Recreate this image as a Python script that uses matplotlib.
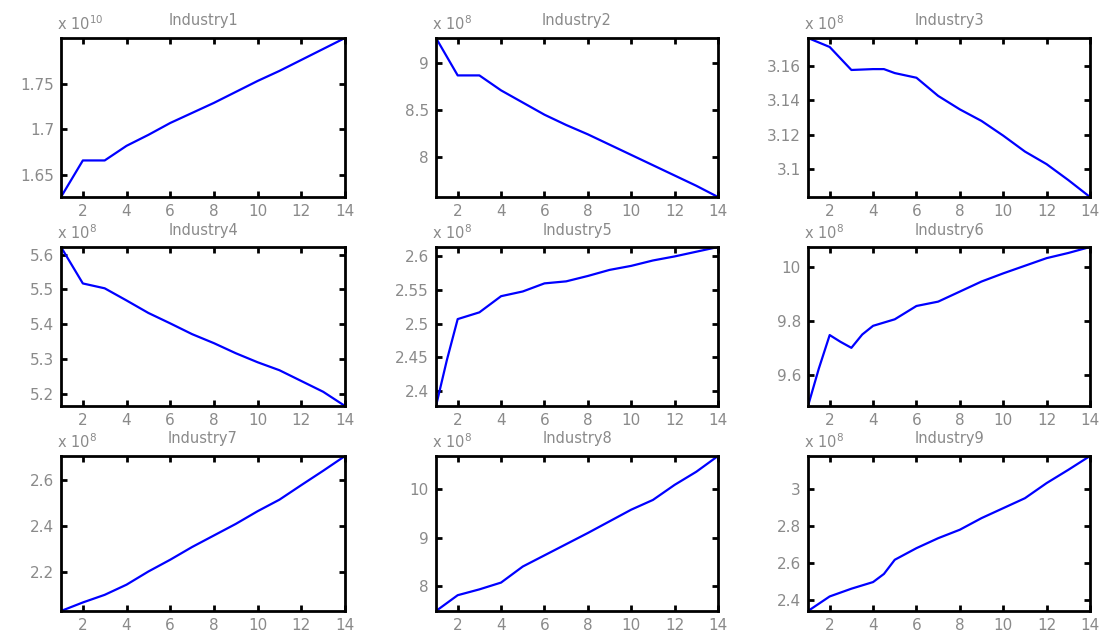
import numpy as np
import matplotlib
matplotlib.use('Agg')
import matplotlib.pyplot as plt

# 数据
x_int = [1, 2, 3, 4, 5, 6, 7, 8, 9, 10, 11, 12, 13, 14]

ind1_y = [1.626, 1.666, 1.666, 1.682, 1.694, 1.707, 1.718, 1.729, 1.741, 1.753, 1.764, 1.776, 1.788, 1.800]
ind2_y = [9.27, 8.87, 8.87, 8.71, 8.58, 8.45, 8.34, 8.24, 8.13, 8.02, 7.91, 7.80, 7.69, 7.57]

ind3_x = [1, 2, 3, 4, 4.5, 5, 6, 7, 8, 9, 10, 11, 12, 13, 14]
ind3_y = [3.176, 3.1708, 3.1575, 3.158, 3.158, 3.1557, 3.153, 3.1425, 3.1347, 3.128, 3.1195, 3.1103, 3.103, 3.0938, 3.084]

ind4_y = [5.622, 5.517, 5.503, 5.468, 5.432, 5.402, 5.371, 5.345, 5.316, 5.290, 5.267, 5.236, 5.205, 5.164]

ind5_x = [1, 1.5, 2, 3, 4, 5, 6, 7, 8, 9, 10, 11, 12, 13, 14]
ind5_y = [2.378, 2.446, 2.507, 2.517, 2.541, 2.548, 2.560, 2.563, 2.571, 2.580, 2.586, 2.594, 2.600, 2.607, 2.614]

ind6_x = [1, 1.5, 2, 2.5, 3, 3.5, 4, 5, 6, 7, 8, 9, 10, 11, 12, 13, 14]
ind6_y = [9.487, 9.625, 9.748, 9.723, 9.701, 9.75, 9.782, 9.806, 9.855, 9.871, 9.908, 9.945, 9.975, 10.003, 10.031, 10.05, 10.072]

ind7_y = [2.033, 2.070, 2.103, 2.147, 2.204, 2.255, 2.31, 2.36, 2.41, 2.465, 2.515, 2.578, 2.64, 2.704]
ind8_y = [7.495, 7.82, 7.94, 8.08, 8.41, 8.64, 8.87, 9.10, 9.34, 9.58, 9.78, 10.09, 10.36, 10.684]

ind9_x = [1, 2, 3, 4, 4.5, 5, 6, 7, 8, 9, 10, 11, 12, 13, 14]
ind9_y = [2.339, 2.418, 2.46, 2.496, 2.54, 2.617, 2.68, 2.734, 2.78, 2.843, 2.897, 2.951, 3.033, 3.105, 3.18]

titles = ['Industry1', 'Industry2', 'Industry3', 'Industry4', 'Industry5',
          'Industry6', 'Industry7', 'Industry8', 'Industry9']
exponents = ['10', '8', '8', '8', '8', '8', '8', '8', '8']
yticks = [[1.65, 1.7, 1.75], [8, 8.5, 9], [3.1, 3.12, 3.14, 3.16],
          [5.2, 5.3, 5.4, 5.5, 5.6], [2.4, 2.45, 2.5, 2.55, 2.6], [9.6, 9.8, 10],
          [2.2, 2.4, 2.6], [8, 9, 10], [2.4, 2.6, 2.8, 3]]
series = [(x_int, ind1_y), (x_int, ind2_y), (ind3_x, ind3_y),
          (x_int, ind4_y), (ind5_x, ind5_y), (ind6_x, ind6_y),
          (x_int, ind7_y), (x_int, ind8_y), (ind9_x, ind9_y)]

fig = plt.figure(figsize=(11.02, 6.37), dpi=100)
W, H = 1102.0, 637.0
col_px = [(61, 345), (436, 718), (808, 1090)]
row_px = [(38, 197), (247, 406), (456, 611)]
gray = '#8a8a8a'

for i in range(9):
    r, c = i // 3, i % 3
    x0, x1 = col_px[c]
    y0, y1 = row_px[r]
    ax = fig.add_axes([x0 / W, 1 - y1 / H, (x1 - x0) / W, (y1 - y0) / H])
    xs, ys = series[i]
    ax.plot(xs, ys, color='#0000ff', linewidth=1.6)
    ax.set_xlim(1, 14)
    ax.set_ylim(min(ys), max(ys))
    ax.set_xticks([2, 4, 6, 8, 10, 12, 14])
    ax.set_yticks(yticks[i])
    ax.set_yticklabels(['%g' % v for v in yticks[i]])
    ax.tick_params(direction='in', top=True, right=True, length=4, width=2,
                   color='black', labelcolor=gray, labelsize=11, pad=5)
    for sp in ax.spines.values():
        sp.set_linewidth(2)
        sp.set_color('black')
    ax.set_title(titles[i], color=gray, fontsize=10.5, pad=9)
    ax.text(-0.015, 1.03, r'x 10$^{%s}$' % exponents[i], transform=ax.transAxes,
            color=gray, fontsize=10.5, ha='left', va='bottom')

fig.savefig('out.png', dpi=100)
